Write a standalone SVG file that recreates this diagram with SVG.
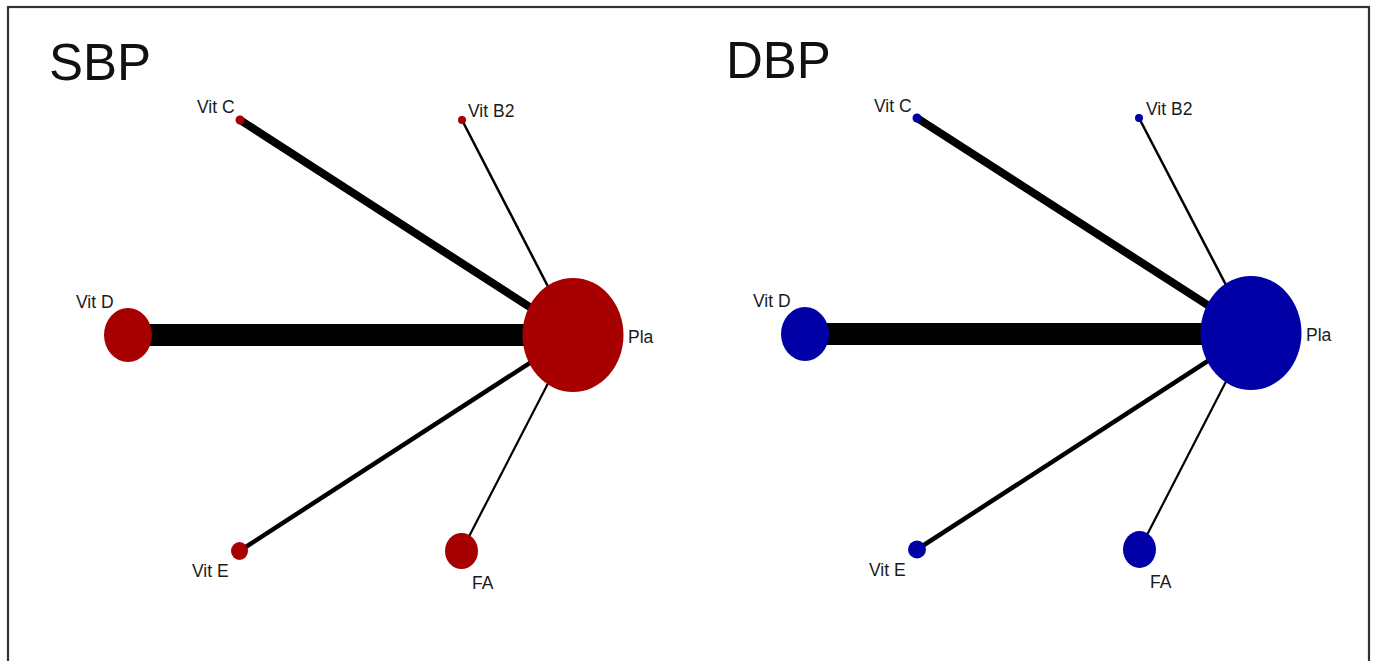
<svg xmlns="http://www.w3.org/2000/svg" width="1375" height="661" viewBox="0 0 1375 661">
  <style>
    .frame { fill: #ffffff; stroke: #333333; stroke-width: 2.2; }
    .title { font-family: "Liberation Sans", Arial, sans-serif; font-size: 51px; fill: #111111; }
    .lbl { font-family: "Liberation Sans", Arial, sans-serif; font-size: 17.5px; fill: #1a1a1a; }
    .edge { stroke: #000000; stroke-linecap: butt; fill: none; }
    .sbp { fill: #A60000; }
    .dbp { fill: #0000A6; }
  </style>

  <rect class="frame" x="8" y="7" width="1361" height="680"/>

  <!-- Systolic blood pressure network -->
  <text class="title" x="49" y="80">SBP</text>
  <g id="sbp-edges">
    <line class="edge" x1="128" y1="335" x2="573" y2="335" stroke-width="22"/>
    <line class="edge" x1="240" y1="120" x2="573" y2="335" stroke-width="8"/>
    <line class="edge" x1="462" y1="120" x2="573" y2="335" stroke-width="2.5"/>
    <line class="edge" x1="239.5" y1="551" x2="573" y2="335" stroke-width="4.5"/>
    <line class="edge" x1="461.5" y1="551" x2="573" y2="335" stroke-width="2.2"/>
  </g>
  <g id="sbp-pla">
    <ellipse class="sbp" cx="573" cy="335" rx="50.5" ry="57"/>
    <text class="lbl" x="628" y="343">Pla</text>
  </g>
  <g id="sbp-vitd">
    <ellipse class="sbp" cx="128" cy="335" rx="24" ry="27"/>
    <text class="lbl" x="76" y="308">Vit D</text>
  </g>
  <g id="sbp-vitc">
    <circle class="sbp" cx="240" cy="120" r="4.5"/>
    <text class="lbl" x="197" y="113">Vit C</text>
  </g>
  <g id="sbp-vitb2">
    <circle class="sbp" cx="462" cy="120" r="4"/>
    <text class="lbl" x="468" y="117">Vit B2</text>
  </g>
  <g id="sbp-vite">
    <ellipse class="sbp" cx="239.5" cy="551" rx="8.5" ry="9"/>
    <text class="lbl" x="192" y="577">Vit E</text>
  </g>
  <g id="sbp-fa">
    <ellipse class="sbp" cx="461.5" cy="551" rx="16.5" ry="18"/>
    <text class="lbl" x="472" y="589">FA</text>
  </g>

  <!-- Diastolic blood pressure network -->
  <text class="title" x="726" y="78">DBP</text>
  <g id="dbp-edges">
    <line class="edge" x1="805" y1="334" x2="1251" y2="334" stroke-width="22"/>
    <line class="edge" x1="917" y1="118" x2="1251" y2="333" stroke-width="8"/>
    <line class="edge" x1="1139" y1="118" x2="1251" y2="333" stroke-width="2.5"/>
    <line class="edge" x1="917" y1="549.5" x2="1251" y2="333" stroke-width="4.5"/>
    <line class="edge" x1="1139.5" y1="549.5" x2="1251" y2="333" stroke-width="2.2"/>
  </g>
  <g id="dbp-pla">
    <ellipse class="dbp" cx="1251" cy="333" rx="50.5" ry="57"/>
    <text class="lbl" x="1306" y="341">Pla</text>
  </g>
  <g id="dbp-vitd">
    <ellipse class="dbp" cx="805" cy="334" rx="24" ry="27"/>
    <text class="lbl" x="753" y="307">Vit D</text>
  </g>
  <g id="dbp-vitc">
    <circle class="dbp" cx="917" cy="118" r="4.5"/>
    <text class="lbl" x="874" y="112">Vit C</text>
  </g>
  <g id="dbp-vitb2">
    <circle class="dbp" cx="1139" cy="118" r="4"/>
    <text class="lbl" x="1146" y="115">Vit B2</text>
  </g>
  <g id="dbp-vite">
    <ellipse class="dbp" cx="917" cy="549.5" rx="9" ry="9"/>
    <text class="lbl" x="869" y="576">Vit E</text>
  </g>
  <g id="dbp-fa">
    <ellipse class="dbp" cx="1139.5" cy="549.5" rx="16.5" ry="18.5"/>
    <text class="lbl" x="1150" y="588">FA</text>
  </g>
</svg>
